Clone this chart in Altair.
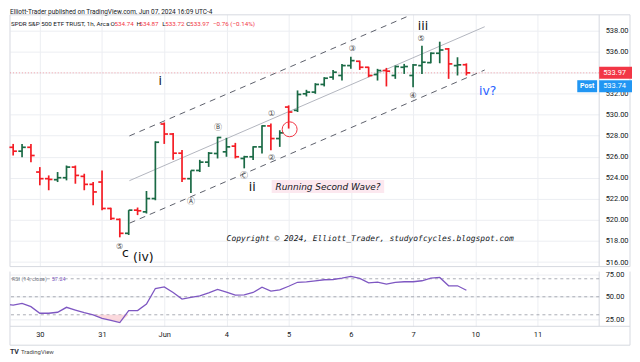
import altair as alt
import pandas as pd

# ---------------- data (1h bars, index 0 = May 29 13:30 ... 51 = Jun 7 15:30) ----------------
bar_index = list(range(52))
opens = [526.90, 526.53, 526.90, 524.55, 523.92, 523.82, 524.01, 525.02, 524.14, 523.38,
         523.60, 521.09, 520.05, 518.73, 520.93, 520.77, 522.03, 529.11, 528.16, 526.34,
         523.92, 524.70, 525.49, 526.31, 526.47, 527.01, 525.84, 526.00, 526.94, 528.93,
         527.73, 530.72, 530.41, 531.98, 532.14, 532.87, 533.56, 533.72, 534.66, 535.07,
         534.50, 533.81, 534.19, 533.72, 534.50, 533.72, 534.66, 534.94, 535.83, 536.24,
         534.66, 534.74]
highs = [527.22, 527.22, 527.22, 525.02, 524.23, 524.55, 525.17, 525.17, 524.39, 523.60,
         524.70, 521.15, 520.14, 520.93, 521.18, 522.75, 527.47, 529.26, 528.25, 526.65,
         524.70, 525.71, 526.45, 527.89, 527.80, 527.32, 526.09, 527.01, 528.99, 529.15,
         528.52, 530.88, 532.30, 532.36, 532.99, 533.56, 534.25, 534.82, 535.51, 535.13,
         534.55, 534.35, 534.44, 534.66, 534.82, 534.82, 536.55, 535.92, 536.93, 536.33,
         535.45, 534.87]
lows = [526.12, 525.96, 525.49, 523.29, 522.82, 523.60, 523.76, 523.44, 522.82, 521.40,
        520.93, 519.99, 518.35, 518.57, 520.46, 520.61, 521.87, 527.22, 525.71, 523.60,
        522.56, 524.55, 525.04, 525.84, 526.00, 525.84, 524.90, 525.69, 526.31, 526.63,
        526.94, 528.68, 530.25, 531.73, 531.98, 532.68, 533.31, 533.24, 534.35, 534.25,
        533.56, 533.24, 532.68, 533.40, 533.87, 532.61, 533.87, 534.88, 534.88, 533.40,
        533.72, 533.72]
closes = [526.53, 526.90, 526.12, 523.92, 523.85, 524.01, 525.02, 524.23, 523.38, 522.66,
          521.09, 520.14, 518.73, 520.93, 520.87, 522.03, 527.38, 528.16, 526.34, 523.92,
          524.70, 525.49, 526.34, 527.83, 526.94, 526.00, 526.00, 526.94, 528.93, 527.73,
          528.27, 530.25, 531.92, 532.14, 532.87, 533.46, 534.03, 534.66, 535.13, 534.50,
          533.72, 534.19, 534.13, 534.57, 534.57, 534.72, 534.98, 535.83, 536.14, 534.82,
          534.73, 533.97]
post_price = 533.74

rsi_index = list(range(-1, 52))
rsi_values = [41.9, 40.8, 42.7, 39.0, 31.7, 31.7, 32.8, 38.3, 35.3, 32.4,
              29.8, 26.1, 23.9, 21.4, 34.6, 34.6, 41.9, 59.2, 61.0, 54.8,
              47.4, 49.3, 51.1, 54.4, 58.1, 55.1, 51.8, 52.2, 54.8, 60.6,
              56.2, 57.7, 61.7, 66.1, 66.5, 67.6, 68.9, 69.2, 70.7, 72.6,
              70.4, 65.5, 66.3, 64.1, 65.9, 66.7, 66.7, 67.8, 70.7, 71.5,
              62.2, 62.2, 57.24]

day_ticks = [3, 10, 17, 24, 31, 38, 45, 52, 59]
day_labels = ["30", "31", "Jun", "4", "5", "6", "7", "10", "11"]
price_ticks = [516, 518, 520, 522, 524, 526, 528, 530, 532, 534, 536, 538]
hidden_price_label = 534  # covered by the last-price tag
rsi_ticks = [25, 50, 75]
rsi_bands = [70, 50, 30]

# channel lines (bar index, price)
chan_x1 = [13.08, 13.08, 13.11]
chan_p1 = [527.98, 523.73, 519.70]
chan_x2 = [44.70, 53.06, 53.06]
chan_p2 = [539.45, 538.35, 534.24]
chan_kind = ["dash", "solid", "dash"]

# wave labels (bar index, price)
wave_text = ["i", "ii", "iii", "c", "(iv)"]
wave_x = [16.55, 26.90, 46.11, 12.63, 14.65]
wave_p = [533.24, 523.13, 538.44, 516.85, 516.45]
circ_text = ["⑤", "Ⓐ", "Ⓑ", "Ⓒ", "①", "②", "③", "④", "⑤"]
circ_x = [11.97, 20.02, 23.05, 25.96, 29.09, 29.09, 38.16, 45.00, 45.90]
circ_p = [517.44, 521.71, 528.70, 524.16, 530.02, 525.87, 536.27, 531.73, 537.21]

# ---------------- style ----------------
GREEN = "#1a6a45"
RED = "#f41c24"
TAGRED = "#f23645"
BLUE = "#2196f3"
GRID = "#eceef2"
FRAME = "#d6d9e0"
TEXT = "#131722"
W, H1, H2, RW = 592, 259, 55, 623
XDOM = [-0.358, 65.94]
YDOM = [515.57, 540.05]
RDOM = [17.2, 78.0]

xs = alt.Scale(domain=XDOM, nice=False, zero=False)
ys = alt.Scale(domain=YDOM, nice=False, zero=False)
rs = alt.Scale(domain=RDOM, nice=False, zero=False)

expr = "".join(f"datum.value == {d} ? '{t}' : " for d, t in zip(day_ticks, day_labels)) + "''"
price_expr = f"datum.value == {hidden_price_label} ? '' : format(datum.value, '.2f')"

ax_x_main = alt.Axis(values=day_ticks, labels=False, ticks=False, domain=False, grid=True,
                     gridColor=GRID, title=None)
ax_y_main = alt.Axis(orient="right", values=price_ticks, labelExpr=price_expr, grid=True, gridColor=GRID,
                     ticks=False, domain=False, labelPadding=6, labelFontSize=7.5, labelColor=TEXT,
                     labelFont="Roboto", title=None)
ax_x_rsi = alt.Axis(values=day_ticks, labelExpr=expr, ticks=False, domain=False, grid=True,
                    gridColor=GRID, labelFontSize=7.5, labelColor=TEXT, labelFont="Roboto",
                    labelPadding=4, title=None, labelFlush=False, labelOverlap=False)
ax_y_rsi = alt.Axis(orient="right", values=rsi_ticks, format=".2f", grid=True, gridColor=GRID,
                    ticks=False, domain=False, labelPadding=6, labelFontSize=7.5, labelColor=TEXT,
                    labelFont="Roboto", title=None)


def X(f):
    return alt.X(f, type="quantitative", scale=xs, axis=ax_x_main)


def Y(f):
    return alt.Y(f, type="quantitative", scale=ys, axis=ax_y_main)


def XR(f):
    return alt.X(f, type="quantitative", scale=xs, axis=ax_x_rsi)


def YR(f):
    return alt.Y(f, type="quantitative", scale=rs, axis=ax_y_rsi)


one = pd.DataFrame({"a": [0]})


def hline(x1, x2, y):
    return alt.Chart(one).mark_rule(color=FRAME, strokeWidth=1).encode(
        x=alt.value(x1), x2=alt.value(x2), y=alt.value(y))


def vline(x, y1, y2):
    return alt.Chart(one).mark_rule(color=FRAME, strokeWidth=1).encode(
        x=alt.value(x), y=alt.value(y1), y2=alt.value(y2))


# ---------------- main pane ----------------
bars = pd.DataFrame({"i": bar_index, "o": opens, "h": highs, "l": lows, "c": closes})
bars["dir"] = ["up" if c >= o else "down" for o, c in zip(opens, closes)]
colr = alt.Color("dir:N", scale=alt.Scale(domain=["up", "down"], range=[GREEN, RED]), legend=None)
bb = alt.Chart(bars)
wick = bb.mark_rule(strokeWidth=1.7).encode(x=X("i"), y=Y("l"), y2="h", color=colr)
otick = bb.transform_calculate(xa="datum.i - 0.42").mark_rule(strokeWidth=1.7).encode(
    x=X("xa"), x2="i", y=Y("o"), color=colr)
ctick = bb.transform_calculate(xb="datum.i + 0.42").mark_rule(strokeWidth=1.7).encode(
    x=X("i"), x2="xb", y=Y("c"), color=colr)

chan = pd.DataFrame({"x1": chan_x1, "p1": chan_p1, "x2": chan_x2, "p2": chan_p2, "kind": chan_kind})
chan_dash = alt.Chart(chan).transform_filter("datum.kind == 'dash'").mark_rule(
    color="#5d606b", strokeWidth=1, strokeDash=[6, 5]).encode(x=X("x1"), y=Y("p1"), x2="x2", y2="p2")
chan_solid = alt.Chart(chan).transform_filter("datum.kind == 'solid'").mark_rule(
    color="#b2b5be", strokeWidth=1).encode(x=X("x1"), y=Y("p1"), x2="x2", y2="p2")

last_close = closes[-1]
pline = alt.Chart(pd.DataFrame({"p": [last_close]})).mark_rule(
    color=TAGRED, opacity=0.45, strokeDash=[1, 2]).encode(y=Y("p"))

circle = alt.Chart(pd.DataFrame({"x": [31.11], "p": [528.61]})).mark_point(
    shape="circle", size=225, filled=False, color="#f23645", strokeWidth=1, opacity=1).encode(
    x=X("x"), y=Y("p"))

waves = alt.Chart(pd.DataFrame({"x": wave_x, "p": wave_p, "t": wave_text})).mark_text(
    font="DejaVu Sans", fontSize=12.5, color="#111111").encode(x=X("x"), y=Y("p"), text="t")
ivq = alt.Chart(pd.DataFrame({"x": [53.39], "p": [532.2], "t": ["iv?"]})).mark_text(
    font="DejaVu Sans", fontSize=12.5, color="#2962ff").encode(x=X("x"), y=Y("p"), text="t")
circs = alt.Chart(pd.DataFrame({"x": circ_x, "p": circ_p, "t": circ_text})).mark_text(
    font="DejaVu Sans, Noto Sans CJK JP", fontSize=8, color="#4a4a4a").encode(
    x=X("x"), y=Y("p"), text="t")

note_box = alt.Chart(pd.DataFrame({"x1": [29.09], "x2": [41.75], "p1": [523.79], "p2": [522.56]})).mark_rect(
    color="#fce8ef").encode(x=X("x1"), x2="x2", y=Y("p1"), y2="p2")
note_txt = alt.Chart(pd.DataFrame({"x": [35.42], "p": [523.17], "t": ["Running Second Wave?"]})).mark_text(
    font="DejaVu Sans", fontStyle="italic", fontSize=9, color=TEXT).encode(x=X("x"), y=Y("p"), text="t")
copy_txt = alt.Chart(pd.DataFrame({"x": [40.18], "p": [518.21],
                                   "t": ["Copyright © 2024, Elliott_Trader, studyofcycles.blogspot.com"]})).mark_text(
    font="DejaVu Sans Mono", fontStyle="italic", fontSize=8, color=TEXT).encode(x=X("x"), y=Y("p"), text="t")

# price tags
tag_df = pd.DataFrame({"p": [last_close], "t": [f"{last_close:.2f}"]})
tag_rect = alt.Chart(tag_df).transform_calculate(pa="datum.p + 0.57", pb="datum.p - 0.57").mark_rect(
    color=TAGRED).encode(x=alt.value(W), x2=alt.value(W + 33), y=Y("pa"), y2="pb")
tag_text = alt.Chart(tag_df).mark_text(color="white", fontSize=7.5, align="left", font="Roboto").encode(
    x=alt.value(W + 4), y=Y("p"), text="t")
post_df = pd.DataFrame({"p": [post_price], "t": [f"{post_price:.2f}"]})
post_rect = alt.Chart(post_df).transform_calculate(pa="datum.p + 0.57", pb="datum.p - 0.57").mark_rect(
    color=BLUE, yOffset=11, y2Offset=11).encode(x=alt.value(W), x2=alt.value(W + 33), y=Y("pa"), y2="pb")
post_text = alt.Chart(post_df).mark_text(color="white", fontSize=7.5, align="left", font="Roboto",
                                         yOffset=11).encode(x=alt.value(W + 4), y=Y("p"), text="t")
post_lbl_rect = alt.Chart(post_df).transform_calculate(pa="datum.p + 0.57", pb="datum.p - 0.57").mark_rect(
    color=BLUE, yOffset=11, y2Offset=11).encode(x=alt.value(W - 22), x2=alt.value(W - 2), y=Y("pa"), y2="pb")
post_lbl = alt.Chart(post_df).mark_text(color="white", fontSize=7, fontWeight="bold", font="Roboto",
                                        yOffset=11).encode(x=alt.value(W - 12), y=Y("p"), text=alt.value("Post"))

# header and legend line
strip = alt.Chart(one).mark_rect(color="white").encode(
    x=alt.value(0), x2=alt.value(RW), y=alt.value(0), y2=alt.value(6))
header = alt.Chart(one).mark_text(align="left", baseline="middle", fontSize=6.5, color=TEXT,
                                  font="Roboto").encode(
    x=alt.value(0), y=alt.value(3),
    text=alt.value("Elliott-Trader published on TradingView.com, Jun 07, 2024 16:09 UTC-4"))
chg = closes[-1] - closes[-2]
pct = chg / closes[-2] * 100
dark_text = ["SPDR S&P 500 ETF TRUST, 1h, Arca", "O", "H", "L", "C"]
dark_px = [1, 101, 127, 153, 177]
red_text = [f"{opens[-1]:.2f}", f"{highs[-1]:.2f}", f"{lows[-1]:.2f}", f"{closes[-1]:.2f}",
            f"{chg:+.2f} ({pct:+.2f}%)".replace("-", "−")]
red_px = [105, 130, 156, 181, 204]
legend_dark = alt.Chart(pd.DataFrame({"px": dark_px, "t": dark_text})).mark_text(
    align="left", baseline="middle", fontSize=6.3, font="Roboto", color=TEXT).encode(
    x=alt.X("px:Q", scale=None), y=alt.value(15), text="t")
legend_red = alt.Chart(pd.DataFrame({"px": red_px, "t": red_text})).mark_text(
    align="left", baseline="middle", fontSize=6.3, font="Roboto", color=TAGRED).encode(
    x=alt.X("px:Q", scale=None), y=alt.value(15), text="t")

main = alt.layer(
    strip, header,
    hline(0, RW, 6), vline(0, 6, H1), vline(W, 6, H1), vline(RW, 6, H1), hline(0, RW, H1),
    legend_dark, legend_red,
    chan_solid, chan_dash, pline,
    wick, otick, ctick,
    circle, waves, ivq, circs, note_box, note_txt, copy_txt,
    tag_rect, tag_text, post_rect, post_text, post_lbl_rect, post_lbl,
).properties(width=W, height=H1)

# ---------------- RSI pane ----------------
rsi_df = pd.DataFrame({"i": rsi_index, "r": rsi_values})
rline = alt.Chart(rsi_df).mark_line(color="#7e57c2", strokeWidth=1.3, clip=True).encode(
    x=XR("i"), y=YR("r"))
oversold = alt.Chart(rsi_df).transform_filter("datum.i >= 8 && datum.i <= 13").transform_calculate(
    lo="min(datum.r, 30)", hi="30").mark_area(color="#f9c9cf", opacity=0.7).encode(
    x=XR("i"), y=YR("lo"), y2="hi")
bands = alt.Chart(pd.DataFrame({"b": rsi_bands})).mark_rule(
    color="#9598a1", strokeDash=[3, 3], strokeWidth=0.8).encode(y=YR("b"))
rsi_lbl = alt.Chart(one).mark_text(align="left", baseline="middle", fontSize=5.5, color="#787b86",
                                   font="Roboto").encode(
    x=alt.value(2), y=alt.value(7), text=alt.value("RSI (14, close)"))
rsi_val = alt.Chart(one).mark_text(align="left", baseline="middle", fontSize=5.5, color="#7e57c2",
                                   font="Roboto").encode(
    x=alt.value(42), y=alt.value(7), text=alt.value(f"{rsi_values[-1]:.2f}"))
logo_tv = alt.Chart(one).mark_text(align="left", baseline="middle", fontSize=7, fontWeight="bold",
                                   color="#2a2e39", font="Roboto").encode(
    x=alt.value(0), y=alt.value(81), text=alt.value("TV"))
logo = alt.Chart(one).mark_text(align="left", baseline="middle", fontSize=6, color="#4a4a4a",
                                font="Roboto").encode(
    x=alt.value(11), y=alt.value(81), text=alt.value("TradingView"))

rsi = alt.layer(
    vline(0, 0, 74), vline(W, 0, H2), vline(RW, 0, 74), hline(0, RW, H2), hline(0, RW, 74),
    bands, oversold, rline, rsi_lbl, rsi_val, logo_tv, logo,
).properties(width=W, height=H2)

chart = alt.vconcat(main, rsi, spacing=2).resolve_scale(
    x="independent", y="independent", color="independent").properties(
    padding=0, background="white").configure_view(stroke=None)

chart.save("out.html", embed_options={"renderer": "svg", "actions": False})
